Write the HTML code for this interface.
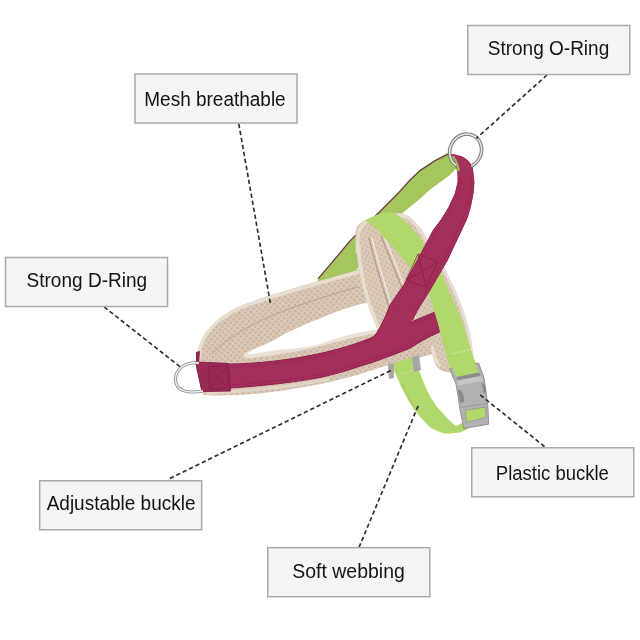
<!DOCTYPE html>
<html><head><meta charset="utf-8">
<style>
html,body{margin:0;padding:0;background:#fff;}
#wrap{position:relative;width:640px;height:640px;overflow:hidden;background:#fff;}
svg{position:absolute;left:0;top:0;}
</style></head>
<body><div id="wrap">
<svg width="640" height="640" viewBox="0 0 640 640">
 <defs>
  <pattern id="mesh" width="4.2" height="4.2" patternUnits="userSpaceOnUse" patternTransform="rotate(40)">
   <rect width="4.2" height="4.2" fill="#dbc8b6"/>
   <circle cx="2.1" cy="2.1" r="1.15" fill="#c3ad98"/>
  </pattern>
  <pattern id="mesh2" width="4" height="4" patternUnits="userSpaceOnUse" patternTransform="rotate(30)">
   <rect width="4" height="4" fill="#ddcbb9"/>
   <circle cx="2" cy="2" r="1" fill="#c6b09b"/>
  </pattern>
  <pattern id="rib" width="3" height="3" patternUnits="userSpaceOnUse" patternTransform="rotate(40)">
   <rect width="3" height="3" fill="#b3da6c"/>
   <rect width="0.7" height="3" fill="#aad264"/>
  </pattern>
  <filter id="soft" x="-5%" y="-5%" width="110%" height="110%"><feGaussianBlur stdDeviation="0.4"/></filter>
 </defs>
 <g filter="url(#soft)">
 <!-- back strap (green w/ dark edge) -->
 <path d="M447 153 L454 155 L458 166 L450 175 L429.4 190 L420 198.75 L403.75 211.9 L362 260 L345 292 L316 283 L320 277.5 L350 241 L387.5 204 L400 191.25 L410 180 L420 170.6 L435 160.6 Z" fill="#a5c65b"/>
 <path d="M449 154 L445 155.6 L435 160.6 L420 170.6 L410 180 L400 191.25 L387.5 204 L350 241 L318 279" fill="none" stroke="#6e4040" stroke-width="1.3"/>
 <!-- beige neck loop -->
 <path d="M197.5 362 C195 342 210 320 240 306 C270 294 310 284 360.8 269 L400 262 L448 350 C420 358 400 362 380 367.5 C350 378 320 386 260 393.5 C240 395 215 396 204 395 C199 386 197.5 372 197.5 362 Z" fill="url(#mesh)"/>
 <path d="M199.5 358 C198 340 212 321 240 308 C270 296 310 286 360 271.5" fill="none" stroke="#e9ddd0" stroke-width="3.5" stroke-linecap="round"/>
 <path d="M212 354 C232 332 268 316 300 305 C320 298 340 292 358 287" fill="none" stroke="#b9a189" stroke-width="1"/>
 <path d="M244 356 C272 343 310 326 374 303" fill="none" stroke="#ece2d7" stroke-width="4.5"/>
 <path d="M246 356 C280 353 310 347 335 340 C350 336 362 333 377 331" fill="none" stroke="#ebe0d4" stroke-width="4.5"/>
 <path d="M206 393 C240 392 290 387 330 379" fill="none" stroke="#e3d5c6" stroke-width="3"/>
 <!-- hole -->
 <path d="M247 354 C252 350 258 347 265 345 C275 340 282 335 290 331.3 C300 327 310 322 320 318.5 C335 312 350 306 372 301.5 L377 329.5 C360 332 345 335 320 344 C305 347.5 295 348.5 290 349 C280 349 272 351 265 352 C258 353 252 354 247 354 Z" fill="#ffffff"/>
 <!-- chest pad -->
 <path d="M355.6 234 C355 226 360 222 366 220 C375 216 385 213.5 395 213 C402 213 407 215 410 217.5 C414 221 418 225 421 229 C424 233 426 238 428 243 C434 252 440 262 446 273 C452 284 457 295 462 308 C467 322 471 338 473 352 C474 360 472 368 466 371 C458 374 446 373 440 370 C434 364 432 356 431 346 L378 330 C372 318 366 300 362 285 C358 272 356 255 355.6 234 Z" fill="url(#mesh2)"/>
 <path d="M357.5 252 C357 238 358 227 366 222 C375 217 385 215 395 215 C402 215 407 216.5 410 219 C416 224 422 232 427 242" fill="none" stroke="#e9ddd0" stroke-width="3.5" stroke-linecap="round"/>
 <path d="M358.5 245 C360 275 367 303 379 328" fill="none" stroke="#e9ddd0" stroke-width="3.5"/>
 <path d="M369 238 C376 268 386 298 397 332" fill="none" stroke="#b39a82" stroke-width="1.2"/>
 <path d="M372 238 C379 268 389 298 400 332" fill="none" stroke="#efe6db" stroke-width="1.5"/>
 <path d="M381 236 C391 260 403 290 413 318" fill="none" stroke="#b39a82" stroke-width="1.2"/>
 <path d="M384 236 C394 260 406 290 416 318" fill="none" stroke="#efe6db" stroke-width="1.5"/>
 <path d="M440 366 C434 360 433 352 432 346" fill="none" stroke="#e9ddd0" stroke-width="3"/>
 <path d="M429 246 C435 255 441 264 446 274 C452 285 457 296 461.5 309 C466 322 470 338 471.5 352 C472 358 471 364 468 368" fill="none" stroke="#e8ddd3" stroke-width="3"/>
 <!-- magenta horizontal strap -->
 <path d="M196 362.5 L230 364 C260 363.5 290 360 320 353.5 C345 348 365 341 385 332 C405 325 420 318 437.5 311 L439.5 332 C428 337 418 343 410 348.3 C395 354 378 361 360 366.25 C350 369.5 340 373 320 377.5 C290 383 260 386 230 388 L202 390 Z" fill="#a42d5c" stroke="#8c2049" stroke-width="1"/>
 <path d="M232 367 C260 366 290 362.5 320 356.5 C345 351 365 344 385 335 C405 328 420 321 436 315" fill="none" stroke="#8f2450" stroke-width="0.8" opacity="0.6"/>
 <path d="M232 385 C260 383 290 380 320 374.5 C340 370 350 367 360 363 C380 357 395 351 410 345 C420 340 428 335 437 330" fill="none" stroke="#8f2450" stroke-width="0.8" opacity="0.6"/>
 <!-- tab -->
 <path d="M195.5 362 L228.5 363.5 L230.5 391 L202 391.5 Z" fill="#982a55" stroke="#85204a" stroke-width="1"/>
 <path d="M196 352 L200 351 L199 363 L196 363 Z" fill="#8c2049"/>
 <path d="M208 366.5 L227 366 L228 388 L210 389 Z M208 366.5 L228 388 M227 366 L210 389" fill="none" stroke="#8a2048" stroke-width="0.8"/>
 <!-- green chest strip -->
 <path d="M365 220.5 C372 216 380 213.5 387 212.5 C390 212 392 212.2 393.75 212.5 C399 216 404 220 408.75 225 C413 230 418 235 422.5 241.25 L425 246 L441 272.5 L448 290 C452 298 456 306 459 313.4 C462 320 465 330 466.9 336.9 C470 346 472 352 474.7 360.3 L479.4 369.7 L451.25 372 L443.4 344.7 L437.2 321 L427.8 290 L410 267.5 C405 261 400 255 393.75 247.5 C388 242 383 236 381 233.75 C376 228 370 224 365 220.5 Z" fill="url(#rib)"/>
 <path d="M451 354 L472 349.5" fill="none" stroke="#e4f2cf" stroke-width="0.9" stroke-dasharray="1.6 1.6"/>
 <!-- green webbing below -->
 <path d="M392 364 L412.5 357 C415 362 417 366 418.75 370 C421 375 422.5 380 424.4 384 C426.5 389 428.5 394 431 398 C434 402 436 406 439.4 409.4 C443 413 446 417 449.7 420.6 C452 423 454 425 456 426 L466 421 L468 429 C462 432 458 433 455 433 C450 434 446 434 442.5 433 C438 431 434 430 431 428 C428 426 426 423 423.4 420.6 C420 417 417 413 414 409.4 C411 405 408 400 405.6 395.3 C403.5 391 401.5 387.5 400 384 C398 379 395 372 390 364 Z" fill="#b0d86a"/>
 <path d="M402 383 C405 392 410 402 418 410" fill="none" stroke="#9fc65a" stroke-width="0.8"/>
 <path d="M400 374 L418 369" fill="none" stroke="#d8ecb8" stroke-width="0.8" stroke-dasharray="1.5 1.5"/>
 <path d="M388 364 L393.5 363 L394 378 L389 379 Z" fill="#a6a6a6"/>
 <path d="M412 357 L419 355 L421 370 L414 372 Z" fill="#a6a6a6"/>
 <!-- magenta front strap -->
 <path d="M451 154 C462 156 469 160 472 166 L474 182 L473.1 193.4 L470.3 207.5 L466.5 219.7 L461.5 230 L447.5 260 L430 290 L417.5 310 L412.5 320 L400 336 L362 343 C370 340 375 336 378 331 C381 326 383.5 320 385.8 315.6 L390 305 L403.75 285 L417.5 260 L433.4 230 L441.25 219.7 L448.75 207.5 L455.3 193.4 L458 182 L458 170 Z" fill="#a42d5c"/>
 <path d="M472 166 L474 182 L473.1 193.4 L470.3 207.5 L466.5 219.7 L461.5 230 L447.5 260 L430 290 L417.5 310 L412.5 320" fill="none" stroke="#8c2049" stroke-width="1"/>
 <path d="M366 342 C372 339 375 336 378 331 C381 326 383.5 320 385.8 315.6 L390 305 L403.75 285 L417.5 260 L433.4 230 L441.25 219.7 L448.75 207.5 L455.3 193.4 L458 182 L458 170" fill="none" stroke="#8c2049" stroke-width="1"/>
 <path d="M459.5 172 L461 184 L458 196 L451 210 L436 232 L420 262 L406 287 L393 307" fill="none" stroke="#8f2450" stroke-width="0.8" opacity="0.6"/>
 <path d="M471 172 L471.5 190 L468 205 L459 228 L445 258 L428 288 L414 312" fill="none" stroke="#8f2450" stroke-width="0.8" opacity="0.6"/>
 <path d="M418 254 L438 262 L426 287 L406 280 Z M418 254 L426 287 M438 262 L406 280" fill="none" stroke="#8a2048" stroke-width="0.8"/>
 <!-- lining inside loop at ring -->
 <path d="M453 156 C456 160 458 166 458 172 L455 168 C455 163 454 159 451 156 Z" fill="#8db44e"/>
 <!-- buckle -->
 <path d="M449.5 369 L478.5 363 L484 377.5 L486 391.5 L487.9 407 L488.7 424.2 L463.8 428.5 L460.4 412 L457 390 L456 384 Z" fill="#b1b1b1" stroke="#8e8e8e" stroke-width="0.9"/>
 <path d="M451.5 366 L474.5 361.5 L479 372.5 L456.5 377 Z" fill="#b0d86a"/>
 <path d="M456.5 377 L479 372.5 L480.5 376 L457.5 380.5 Z" fill="#8c8c8c"/>
 <path d="M457.5 380.5 L480.5 376 L483 381 L458 385.5 Z" fill="#c6c6c6"/>
 <path d="M457.5 389.5 C462 389 464.5 395 464 402 L460.2 402.8 C459 397 458.2 393 457.5 389.5 Z" fill="#8a8a8a"/>
 <path d="M481.5 383 C485 383 486.2 387 486.3 392.5 L483.3 393 C482.8 389 482.2 386 481.5 383 Z" fill="#8a8a8a"/>
 <path d="M460.6 407.5 L487.9 403.4" fill="none" stroke="#9a9a9a" stroke-width="1"/>
 <path d="M465.5 410.4 L485.3 407 L486.2 417.3 L466.4 422.5 Z" fill="#b0d86a" stroke="#8f8f8f" stroke-width="0.7"/>
 <!-- D ring -->
 <path d="M199 363 C185 361 175.5 370 175.5 379 C175.5 389 184 394.5 203 391" fill="none" stroke="#8a8a8a" stroke-width="3.1"/>
 <path d="M199 363 C185 361 175.5 370 175.5 379 C175.5 389 184 394.5 203 391" fill="none" stroke="#f0f0f0" stroke-width="1.4"/>
 <!-- O ring -->
 <ellipse cx="465.6" cy="150.9" rx="15.6" ry="17.2" transform="rotate(28 465.6 150.9)" fill="none" stroke="#7a7a7a" stroke-width="3.6"/>
 <ellipse cx="465.6" cy="150.9" rx="15.6" ry="17.2" transform="rotate(28 465.6 150.9)" fill="none" stroke="#e6e6e6" stroke-width="1.5"/>
 <!-- strap over ring (front part) -->
 <path d="M451 154 C460 154.5 467 158 470 163 L473 170 L474 178 L458 180 C458 170 456 160 451 154 Z" fill="#a42d5c"/>
 <path d="M452 156 C455 160 457 165 457.5 171 L460 171 C459 165 457 160 454 156 Z" fill="#98c054"/>
 </g>
 <!-- dashed lines -->
 <g stroke="#2c2c2c" stroke-width="1.65" stroke-dasharray="4.3 2.8" fill="none">
  <line x1="547" y1="75" x2="476.4" y2="138.3"/>
  <line x1="238.8" y1="123.8" x2="270.6" y2="304.5"/>
  <line x1="104.1" y1="306.9" x2="181" y2="367.5"/>
  <line x1="169.9" y1="478.4" x2="392.5" y2="369.6"/>
  <line x1="359" y1="547.4" x2="419.2" y2="403.3"/>
  <line x1="544.5" y1="446.5" x2="478.1" y2="393.25"/>
 </g>
</svg>
<svg id="labels" style="will-change:transform" width="640" height="640" viewBox="0 0 640 640">
 <rect x="135.00" y="74.00" width="162" height="49" fill="#f5f5f5" stroke="#a9a9a9" stroke-width="1.5"/>
 <rect x="467.75" y="25.50" width="162" height="49" fill="#f5f5f5" stroke="#a9a9a9" stroke-width="1.5"/>
 <rect x="5.50" y="257.50" width="162" height="49" fill="#f5f5f5" stroke="#a9a9a9" stroke-width="1.5"/>
 <rect x="39.65" y="480.75" width="162" height="49" fill="#f5f5f5" stroke="#a9a9a9" stroke-width="1.5"/>
 <rect x="267.75" y="547.65" width="162" height="49" fill="#f5f5f5" stroke="#a9a9a9" stroke-width="1.5"/>
 <rect x="471.75" y="447.75" width="162" height="49" fill="#f5f5f5" stroke="#a9a9a9" stroke-width="1.5"/>
 <text x="144.32" y="105.80" textLength="141.35" lengthAdjust="spacingAndGlyphs" font-family="Liberation Sans" font-size="19.6" fill="#141414">Mesh breathable</text>
 <text x="487.72" y="55.00" textLength="121.54" lengthAdjust="spacingAndGlyphs" font-family="Liberation Sans" font-size="19.6" fill="#141414">Strong O-Ring</text>
 <text x="26.52" y="286.80" textLength="120.68" lengthAdjust="spacingAndGlyphs" font-family="Liberation Sans" font-size="19.6" fill="#141414">Strong D-Ring</text>
 <text x="46.70" y="509.90" textLength="148.80" lengthAdjust="spacingAndGlyphs" font-family="Liberation Sans" font-size="19.6" fill="#141414">Adjustable buckle</text>
 <text x="292.23" y="577.60" textLength="112.66" lengthAdjust="spacingAndGlyphs" font-family="Liberation Sans" font-size="19.6" fill="#141414">Soft webbing</text>
 <text x="495.82" y="479.60" textLength="113.06" lengthAdjust="spacingAndGlyphs" font-family="Liberation Sans" font-size="19.6" fill="#141414">Plastic buckle</text>
</svg>
</div></body></html>
